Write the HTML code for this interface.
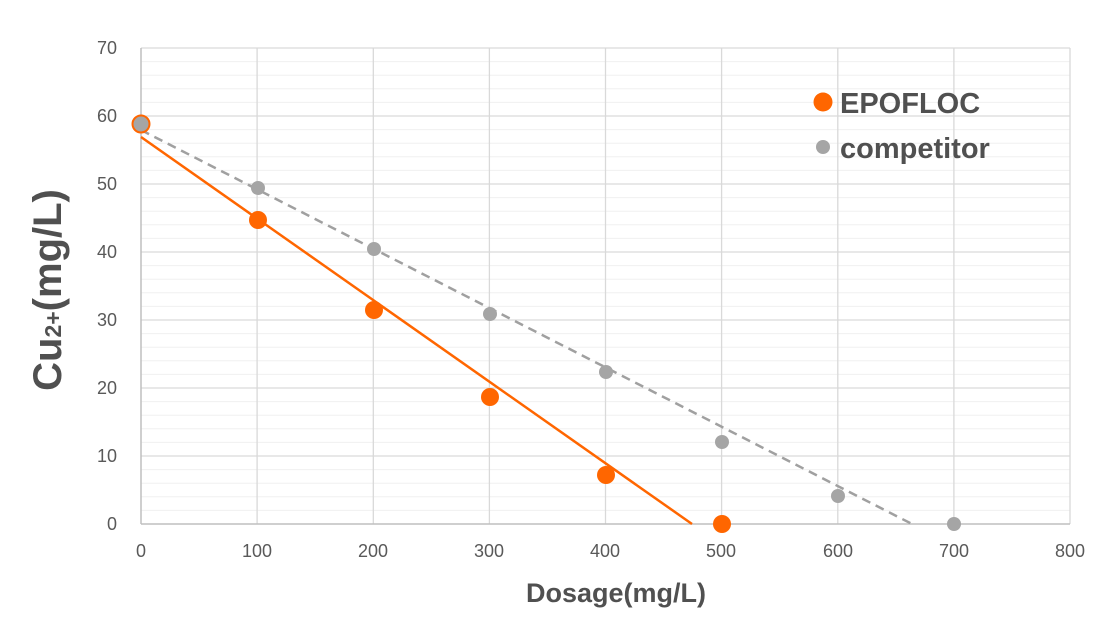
<!DOCTYPE html>
<html><head><meta charset="utf-8"><style>
html,body{margin:0;padding:0;background:#fff;}
svg{display:block;font-family:"Liberation Sans",sans-serif;}
</style></head><body>
<svg width="1100" height="632" viewBox="0 0 1100 632" xmlns="http://www.w3.org/2000/svg">
<g stroke="#f0f0f0" stroke-width="1">
<line x1="141" x2="1070" y1="510.4" y2="510.4"/><line x1="141" x2="1070" y1="496.8" y2="496.8"/><line x1="141" x2="1070" y1="483.2" y2="483.2"/><line x1="141" x2="1070" y1="469.6" y2="469.6"/>
<line x1="141" x2="1070" y1="442.4" y2="442.4"/><line x1="141" x2="1070" y1="428.8" y2="428.8"/><line x1="141" x2="1070" y1="415.2" y2="415.2"/><line x1="141" x2="1070" y1="401.6" y2="401.6"/>
<line x1="141" x2="1070" y1="374.4" y2="374.4"/><line x1="141" x2="1070" y1="360.8" y2="360.8"/><line x1="141" x2="1070" y1="347.2" y2="347.2"/><line x1="141" x2="1070" y1="333.6" y2="333.6"/>
<line x1="141" x2="1070" y1="306.4" y2="306.4"/><line x1="141" x2="1070" y1="292.8" y2="292.8"/><line x1="141" x2="1070" y1="279.2" y2="279.2"/><line x1="141" x2="1070" y1="265.6" y2="265.6"/>
<line x1="141" x2="1070" y1="238.4" y2="238.4"/><line x1="141" x2="1070" y1="224.8" y2="224.8"/><line x1="141" x2="1070" y1="211.2" y2="211.2"/><line x1="141" x2="1070" y1="197.6" y2="197.6"/>
<line x1="141" x2="1070" y1="170.4" y2="170.4"/><line x1="141" x2="1070" y1="156.8" y2="156.8"/><line x1="141" x2="1070" y1="143.2" y2="143.2"/><line x1="141" x2="1070" y1="129.6" y2="129.6"/>
<line x1="141" x2="1070" y1="102.4" y2="102.4"/><line x1="141" x2="1070" y1="88.8" y2="88.8"/><line x1="141" x2="1070" y1="75.2" y2="75.2"/><line x1="141" x2="1070" y1="61.6" y2="61.6"/>
</g>
<g stroke="#d9d9d9" stroke-width="1.3">
<line x1="141" x2="1070" y1="456" y2="456"/><line x1="141" x2="1070" y1="388" y2="388"/><line x1="141" x2="1070" y1="320" y2="320"/><line x1="141" x2="1070" y1="252" y2="252"/><line x1="141" x2="1070" y1="184" y2="184"/><line x1="141" x2="1070" y1="116" y2="116"/><line x1="141" x2="1070" y1="48" y2="48"/>
<line x1="257.1" x2="257.1" y1="48" y2="524"/><line x1="373.3" x2="373.3" y1="48" y2="524"/><line x1="489.4" x2="489.4" y1="48" y2="524"/><line x1="605.5" x2="605.5" y1="48" y2="524"/><line x1="721.6" x2="721.6" y1="48" y2="524"/><line x1="837.8" x2="837.8" y1="48" y2="524"/><line x1="953.9" x2="953.9" y1="48" y2="524"/><line x1="1070" x2="1070" y1="48" y2="524"/>
</g>
<line x1="141" x2="1070" y1="524" y2="524" stroke="#bfbfbf" stroke-width="1.5"/>
<line x1="141" x2="141" y1="48" y2="524" stroke="#bfbfbf" stroke-width="1.5"/>
<g font-size="18" fill="#595959" text-anchor="end">
<text x="117" y="530">0</text><text x="117" y="462">10</text><text x="117" y="394">20</text><text x="117" y="326">30</text><text x="117" y="258">40</text><text x="117" y="190">50</text><text x="117" y="122">60</text><text x="117" y="54">70</text>
</g>
<g font-size="18" fill="#595959" text-anchor="middle">
<text x="141" y="557">0</text><text x="257" y="557">100</text><text x="373" y="557">200</text><text x="489" y="557">300</text><text x="605" y="557">400</text><text x="721" y="557">500</text><text x="838" y="557">600</text><text x="954" y="557">700</text><text x="1070" y="557">800</text>
</g>
<line x1="141" y1="130" x2="912" y2="524" stroke="#a0a0a0" stroke-width="2.5" stroke-dasharray="9,6"/>
<line x1="141" y1="137" x2="692" y2="524" stroke="#ff6600" stroke-width="2.5"/>
<g fill="#a5a5a5">
<circle cx="258" cy="188" r="7"/><circle cx="374" cy="249" r="7"/><circle cx="490" cy="314" r="7"/><circle cx="606" cy="372" r="7"/><circle cx="722" cy="442" r="7"/><circle cx="838" cy="496" r="7"/><circle cx="954" cy="524" r="7"/>
</g>
<g fill="#ff6600">
<circle cx="258" cy="220" r="9"/><circle cx="374" cy="310" r="9"/><circle cx="490" cy="397" r="9"/><circle cx="606" cy="475" r="9"/><circle cx="722" cy="524" r="9"/>
</g>
<circle cx="141" cy="124" r="8.5" fill="#a5a5a5" stroke="#ff6600" stroke-width="2"/>
<circle cx="823" cy="102" r="9.5" fill="#ff6600"/>
<circle cx="823" cy="147" r="7" fill="#a5a5a5"/>
<g font-weight="bold" fill="#505050">
<text x="840" y="113" font-size="29">EPOFLOC</text>
<text x="840" y="158" font-size="29">competitor</text>
<text x="616" y="602" text-anchor="middle" font-size="27">Dosage(mg/L)</text>
<text transform="translate(61,290) rotate(-90)" text-anchor="middle" font-size="40">Cu<tspan font-size="23">2+</tspan>(mg/L)</text>
</g>
</svg>
</body></html>
